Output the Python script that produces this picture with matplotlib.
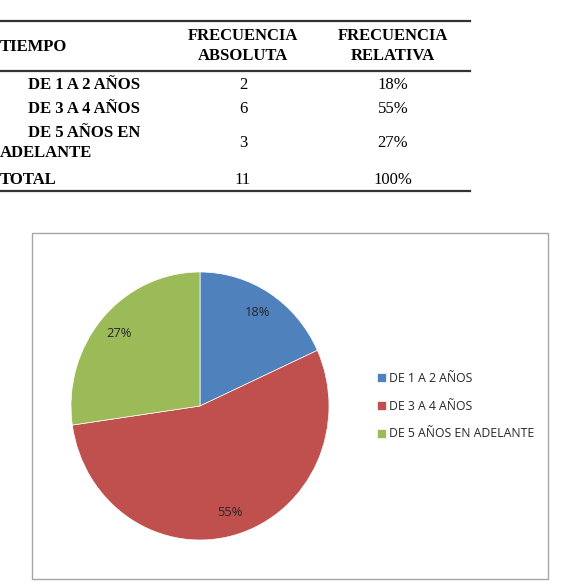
import matplotlib.pyplot as plt
from matplotlib.lines import Line2D
from matplotlib.patches import Rectangle

categorias = ['DE 1 A 2 AÑOS', 'DE 3 A 4 AÑOS', 'DE 5 AÑOS EN ADELANTE']
frecuencia = [2, 6, 3]
relativa = ['18%', '55%', '27%']
total = 11
total_rel = '100%'
colores = ['#4F81BD', '#C0504D', '#9BBB59']

W, H = 577, 586
fig = plt.figure(figsize=(W / 100, H / 100), dpi=100)

def fx(px):
    return px / W

def fy(py):
    return 1 - py / H

serif = 'Liberation Serif'
fs = 12

# table rules
for y, lw in [(21, 1.6), (71, 1.6), (191, 1.6)]:
    fig.add_artist(Line2D([0, fx(470)], [fy(y), fy(y)], color='#333333', lw=lw))

fig.text(fx(0), fy(47), 'TIEMPO', family=serif, weight='bold', fontsize=fs, va='center')
fig.text(fx(243), fy(46), 'FRECUENCIA\nABSOLUTA', family=serif, weight='bold', fontsize=fs,
         ha='center', va='center', linespacing=1.3)
fig.text(fx(393), fy(46), 'FRECUENCIA\nRELATIVA', family=serif, weight='bold', fontsize=fs,
         ha='center', va='center', linespacing=1.3)

row_y = [85, 109, 143]
fig.text(fx(28), fy(row_y[0]), categorias[0], family=serif, weight='bold', fontsize=fs, va='center')
fig.text(fx(28), fy(row_y[1]), categorias[1], family=serif, weight='bold', fontsize=fs, va='center')
fig.text(fx(28), fy(133), 'DE 5 AÑOS EN', family=serif, weight='bold', fontsize=fs, va='center')
fig.text(fx(0), fy(153), 'ADELANTE', family=serif, weight='bold', fontsize=fs, va='center')
for y, n, r in zip(row_y, frecuencia, relativa):
    fig.text(fx(243), fy(y), str(n), family=serif, fontsize=fs, ha='center', va='center')
    fig.text(fx(393), fy(y), r, family=serif, fontsize=fs, ha='center', va='center')
fig.text(fx(0), fy(180), 'TOTAL', family=serif, weight='bold', fontsize=fs, va='center')
fig.text(fx(243), fy(180), str(total), family=serif, fontsize=fs, ha='center', va='center')
fig.text(fx(393), fy(180), total_rel, family=serif, fontsize=fs, ha='center', va='center')

# chart frame
fig.add_artist(Rectangle((fx(32), fy(579)), fx(548) - fx(32), fy(233) - fy(579),
                         fill=False, edgecolor='#A6A6A6', lw=1.0))

# pie
cx, cy, rx, ry = 200, 406, 129, 134
ax = fig.add_axes([fx(cx - rx), fy(cy + ry), 2 * rx / W, 2 * ry / H])
wedges, texts, autotexts = ax.pie(frecuencia, colors=colores, startangle=90, counterclock=False,
                                  autopct='%1.0f%%', pctdistance=0.83,
                                  wedgeprops=dict(linewidth=0.5, edgecolor='white'),
                                  textprops=dict(family='Open Sans', fontsize=9.3, color='#262626'))
ax.set_aspect('auto')
ax.set_xlim(-1, 1)
ax.set_ylim(-1, 1)

fig.legend(wedges, categorias, loc='center left', bbox_to_anchor=(fx(377), fy(406)),
           frameon=False, prop=dict(family='Open Sans', size=8.8),
           handlelength=0.75, handleheight=0.75, handletextpad=0.2, labelspacing=1.22,
           borderpad=0, borderaxespad=0, labelcolor='#262626')

fig.savefig('out.png', dpi=100)
